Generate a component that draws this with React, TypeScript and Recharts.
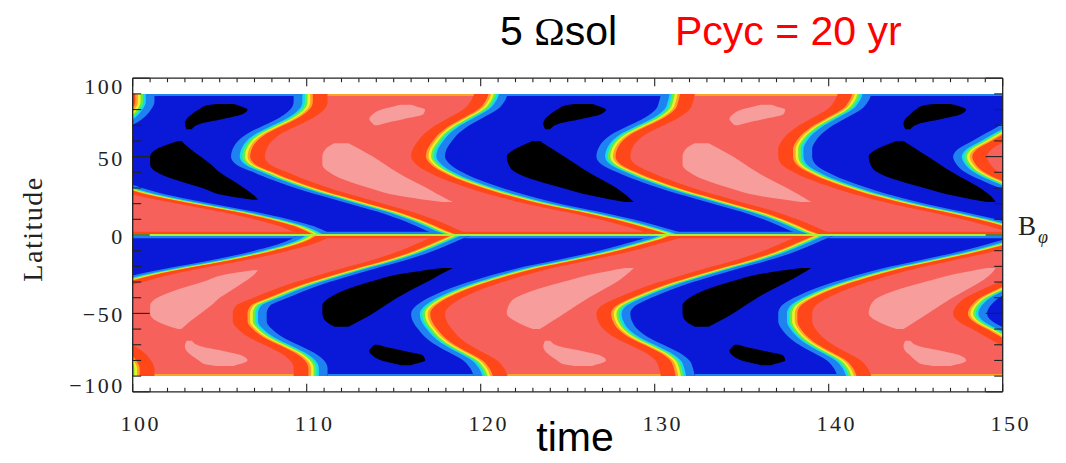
import { Area, ComposedChart, ReferenceLine, XAxis, YAxis } from "recharts";

// every contour patch is a list of [latitude, start time, end time]
type Band = [number, number, number];

const BLACK = "#000000";
const BLUE = "#0a18d8";
const SKY = "#1e82f0";
const CYAN = "#14dcea";
const GREEN = "#62ee4a";
const YELLOW = "#f0f02a";
const ORANGE = "#ffa326";
const VERMILION = "#ff4719";
const SALMON = "#f7615b";
const PINK = "#f79d9b";
const INK = "#222222";
const SERIF = '"Liberation Serif", "Times New Roman", serif';
const SANS = '"Liberation Sans", Arial, sans-serif';

// axis ticks
const timeLabels = [100, 110, 120, 130, 140, 150];
const latLabels = [-100, -50, 0, 50, 100];
const timeTicks: number[] = [];
for (let t = 100; t <= 150; t++) timeTicks.push(t);
const latTicks: number[] = [];
for (let l = -100; l <= 100; l += 10) latTicks.push(l);

// extent of the data (north / south hemisphere)
const northField: Band[] = [[90, 80, 170], [0, 80, 170]];
const southField: Band[] = [[0, 80, 170], [-90, 80, 170]];

// positive B_phi lobes, northern hemisphere (edge of the salmon level)
const lobeN0: Band[] = [
  [90, 85, 99.3], [85, 85, 99.3], [80, 85, 99.1], [75, 85, 98.7], [70, 85, 98.0],
  [65, 85, 97.0], [60, 85, 96.0], [55, 85, 95.4], [50, 85, 95.2], [45, 85, 95.4],
  [40, 85, 96.0], [35, 85, 97.2], [30, 85, 98.6], [25, 85, 100.3], [20, 85, 102.6],
  [15, 85, 105.0], [10, 85, 107.0], [5, 85, 108.6], [2, 85, 109.2], [0, 85, 109.5],
];
const lobeN1: Band[] = [
  [90, 111.2, 119.6], [85, 111.2, 119.4], [80, 111.0, 119.0], [75, 110.4, 118.2], [70, 109.5, 117.4],
  [65, 108.6, 116.8], [60, 108.0, 116.4], [55, 107.7, 116.1], [50, 107.6, 116.0], [45, 107.9, 116.3],
  [40, 108.9, 117.0], [35, 110.0, 118.0], [30, 111.3, 119.3], [25, 112.8, 120.8], [20, 114.4, 122.6],
  [15, 116.0, 124.8], [10, 117.3, 126.8], [5, 118.4, 128.5], [2, 119.0, 129.4], [0, 119.5, 129.9],
];
const lobeN2: Band[] = [
  [90, 132.3, 140.5], [85, 132.2, 140.3], [80, 132.0, 139.9], [75, 131.4, 139.1], [70, 130.5, 138.3],
  [65, 129.6, 137.7], [60, 129.0, 137.3], [55, 128.7, 137.1], [50, 128.6, 137.1], [45, 128.9, 137.3],
  [40, 129.8, 138.0], [35, 130.9, 139.0], [30, 132.2, 140.3], [25, 133.7, 141.8], [20, 135.3, 143.6],
  [15, 136.9, 145.7], [10, 138.2, 147.7], [5, 139.3, 149.4], [2, 139.9, 150.3], [0, 140.4, 150.8],
];
const lobeN3: Band[] = [
  [90, 153.0, 170], [80, 152.7, 170], [70, 151.8, 170], [65, 151.0, 170], [60, 150.2, 170],
  [55, 149.4, 170], [50, 149.1, 170], [45, 149.3, 170], [40, 149.8, 170], [35, 150.7, 170],
  [30, 151.8, 170], [20, 155.3, 170], [10, 158.5, 170], [0, 161.0, 170],
];

// negative B_phi lobes, southern hemisphere (edge of the blue level)
const lobeS0: Band[] = [
  [-90, 85, 99.3], [-85, 85, 99.3], [-80, 85, 99.1], [-75, 85, 98.7], [-70, 85, 98.0],
  [-65, 85, 97.0], [-60, 85, 96.0], [-55, 85, 95.4], [-50, 85, 95.2], [-45, 85, 95.4],
  [-40, 85, 96.0], [-35, 85, 97.2], [-30, 85, 98.6], [-25, 85, 100.3], [-20, 85, 102.6],
  [-15, 85, 105.0], [-10, 85, 107.0], [-5, 85, 108.6], [-2, 85, 109.2], [0, 85, 109.5],
];
const lobeS1: Band[] = [
  [-90, 111.2, 119.6], [-85, 111.2, 119.4], [-80, 111.0, 119.0], [-75, 110.4, 118.2], [-70, 109.5, 117.4],
  [-65, 108.6, 116.8], [-60, 108.0, 116.4], [-55, 107.7, 116.1], [-50, 107.7, 116.0], [-45, 107.9, 116.3],
  [-40, 108.9, 117.0], [-35, 110.0, 118.0], [-30, 111.3, 119.3], [-25, 112.8, 120.8], [-20, 114.4, 122.6],
  [-15, 116.0, 124.8], [-10, 117.3, 126.8], [-5, 118.4, 128.5], [-2, 119.0, 129.4], [0, 119.5, 129.9],
];
const lobeS2: Band[] = [
  [-90, 132.3, 140.5], [-85, 132.2, 140.3], [-80, 132.0, 139.9], [-75, 131.4, 139.1], [-70, 130.5, 138.3],
  [-65, 129.6, 137.7], [-60, 129.0, 137.3], [-55, 128.7, 137.1], [-50, 128.6, 137.1], [-45, 128.9, 137.3],
  [-40, 129.8, 138.0], [-35, 130.9, 139.0], [-30, 132.2, 140.3], [-25, 133.7, 141.8], [-20, 135.3, 143.6],
  [-15, 136.9, 145.7], [-10, 138.2, 147.7], [-5, 139.3, 149.4], [-2, 139.9, 150.3], [0, 140.4, 150.8],
];
const lobeS3: Band[] = [
  [-90, 153.0, 170], [-80, 152.7, 170], [-70, 151.8, 170], [-65, 151.0, 170], [-60, 150.2, 170],
  [-55, 149.4, 170], [-50, 149.1, 170], [-45, 149.3, 170], [-40, 149.8, 170], [-35, 150.7, 170],
  [-30, 151.8, 170], [-20, 155.3, 170], [-10, 158.5, 170], [0, 161.0, 170],
];

// strongest positive level (pink), north
const pinkN1Small: Band[] = [[83, 115.4, 116.0], [82, 115.0, 116.3], [80, 114.3, 116.8], [77, 113.8, 116.7], [74, 113.6, 115.6], [71, 113.8, 114.4], [70, 113.9, 114.1]];
const pinkN1Large: Band[] = [[58.5, 111.6, 112.4], [55, 111.1, 113.0], [50, 110.9, 113.8], [45, 110.9, 114.5], [40, 111.3, 115.2], [35, 112.2, 116.0], [30, 113.6, 116.9], [25, 115.3, 117.7], [21, 117.8, 118.4]];
const pinkN2Small: Band[] = [[83, 136.1, 136.7], [82, 135.7, 137.0], [80, 135.0, 137.5], [77, 134.5, 137.4], [74, 134.3, 136.3], [71, 134.5, 135.1], [70, 134.6, 134.8]];
const pinkN2Large: Band[] = [[58.5, 132.3, 133.1], [55, 131.8, 133.7], [50, 131.6, 134.5], [45, 131.6, 135.2], [40, 132.0, 135.9], [35, 132.9, 136.7], [30, 134.3, 137.6], [25, 136.0, 138.4], [21, 138.4, 139.0]];

// strongest negative level (black), north
const blackN0Small: Band[] = [[83.5, 104.8, 105.8], [82.5, 104.2, 106.1], [80, 103.8, 106.6], [77, 103.4, 106.3], [74, 103.1, 105.2], [71, 103.0, 103.9], [67.5, 103.1, 103.4]];
const blackN0Large: Band[] = [[60, 102.6, 102.8], [55, 101.4, 103.3], [50, 101.0, 103.9], [45, 101.0, 104.5], [40, 101.4, 105.0], [35, 102.5, 105.7], [30, 104.0, 106.4], [25, 105.4, 107.0], [22.5, 106.9, 107.2]];
const blackN1Small: Band[] = [[83.5, 125.4, 126.4], [82.5, 124.8, 126.7], [80, 124.4, 127.2], [77, 124.0, 126.9], [74, 123.7, 125.8], [71, 123.6, 124.5], [67.5, 123.7, 124.0]];
const blackN1Large: Band[] = [[60, 123.0, 123.4], [55, 122.0, 124.1], [50, 121.5, 124.8], [45, 121.6, 125.5], [40, 122.0, 126.2], [35, 123.1, 127.0], [30, 124.7, 127.8], [25, 126.4, 128.4], [21, 128.3, 128.8]];
const blackN2Small: Band[] = [[83.5, 146.0, 147.0], [82.5, 145.4, 147.4], [80, 145.0, 147.9], [77, 144.7, 147.6], [74, 144.4, 146.5], [71, 144.3, 145.2], [67.5, 144.4, 144.7]];
const blackN2Large: Band[] = [[60, 143.9, 144.3], [55, 142.8, 145.0], [50, 142.3, 145.7], [45, 142.4, 146.4], [40, 142.8, 147.1], [35, 143.9, 147.9], [30, 145.5, 148.7], [25, 147.2, 149.3], [21, 149.1, 149.6]];

// south: black blobs inside the blue lobes
const blackS1Small: Band[] = [[-83, 115.4, 116.0], [-82, 115.0, 116.3], [-80, 114.3, 116.8], [-77, 113.8, 116.7], [-74, 113.6, 115.6], [-71, 113.8, 114.4], [-70, 113.9, 114.1]];
const blackS1Large: Band[] = [[-58.5, 111.6, 112.4], [-55, 111.1, 113.0], [-50, 110.9, 113.8], [-45, 110.9, 114.5], [-40, 111.3, 115.2], [-35, 112.2, 116.0], [-30, 113.6, 116.9], [-25, 115.3, 117.7], [-21, 117.8, 118.4]];
const blackS2Small: Band[] = [[-83, 136.1, 136.7], [-82, 135.7, 137.0], [-80, 135.0, 137.5], [-77, 134.5, 137.4], [-74, 134.3, 136.3], [-71, 134.5, 135.1], [-70, 134.6, 134.8]];
const blackS2Large: Band[] = [[-58.5, 132.3, 133.1], [-55, 131.8, 133.7], [-50, 131.6, 134.5], [-45, 131.6, 135.2], [-40, 132.0, 135.9], [-35, 132.9, 136.7], [-30, 134.3, 137.6], [-25, 136.0, 138.4], [-21, 138.4, 139.0]];

// south: pink blobs inside the red background
const pinkS0Small: Band[] = [[-83.5, 104.8, 105.8], [-82.5, 104.2, 106.1], [-80, 103.8, 106.6], [-77, 103.4, 106.3], [-74, 103.1, 105.2], [-71, 103.0, 103.9], [-67.5, 103.1, 103.4]];
const pinkS0Large: Band[] = [[-60, 102.6, 102.8], [-55, 101.4, 103.3], [-50, 101.0, 103.9], [-45, 101.0, 104.5], [-40, 101.4, 105.0], [-35, 102.5, 105.7], [-30, 104.0, 106.4], [-25, 105.4, 107.0], [-22.5, 106.9, 107.2]];
const pinkS1Small: Band[] = [[-83.5, 125.4, 126.4], [-82.5, 124.8, 126.7], [-80, 124.4, 127.2], [-77, 124.0, 126.9], [-74, 123.7, 125.8], [-71, 123.6, 124.5], [-67.5, 123.7, 124.0]];
const pinkS1Large: Band[] = [[-60, 123.0, 123.4], [-55, 122.0, 124.1], [-50, 121.5, 124.8], [-45, 121.6, 125.5], [-40, 122.0, 126.2], [-35, 123.1, 127.0], [-30, 124.7, 127.8], [-25, 126.4, 128.4], [-21, 128.3, 128.8]];
const pinkS2Small: Band[] = [[-83.5, 146.0, 147.0], [-82.5, 145.4, 147.4], [-80, 145.0, 147.9], [-77, 144.7, 147.6], [-74, 144.4, 146.5], [-71, 144.3, 145.2], [-67.5, 144.4, 144.7]];
const pinkS2Large: Band[] = [[-60, 143.9, 144.3], [-55, 142.8, 145.0], [-50, 142.3, 145.7], [-45, 142.4, 146.4], [-40, 142.8, 147.1], [-35, 143.9, 147.9], [-30, 145.5, 148.7], [-25, 147.2, 149.3], [-21, 149.1, 149.6]];

// contour levels between a lobe edge and the opposite sign, outermost first: [colour, reach in time units]
const NORTH_RINGS: [string, number][] = [[SKY, 1.95], [CYAN, 1.45], [GREEN, 1.3], [YELLOW, 1.15], [ORANGE, 1.0], [VERMILION, 0.85]];
const SOUTH_RINGS: [string, number][] = [[VERMILION, 1.95], [ORANGE, 1.1], [YELLOW, 0.95], [GREEN, 0.8], [CYAN, 0.65], [SKY, 0.5]];
// thin strips where the field drops to zero (equator, outer edge), thickness in degrees
const EDGE = 1.3;

type Layer = { key: string; bands: Band[]; fill: string; curve: "monotone" | "linear" };

const northLobes = [lobeN0, lobeN1, lobeN2, lobeN3];
const southLobes = [lobeS0, lobeS1, lobeS2, lobeS3];

// strip along the equator (rows lat 0 and ±2) and along the outer edge (±90)
const equatorRim = (lobe: Band[]) => lobe.filter((b) => Math.abs(b[0]) <= 2);
const outerRim = (lobe: Band[], sign: number) => {
  const top = lobe.find((b) => b[0] === sign * 90)!;
  return [top, [sign * (90 - EDGE), top[1], top[2]] as Band];
};

const layers: Layer[] = [
  { key: "fieldN", bands: northField, fill: BLUE, curve: "linear" },
  { key: "fieldS", bands: southField, fill: SALMON, curve: "linear" },
  { key: "rimN", bands: [[2, 80, 170], [0, 80, 170]], fill: SKY, curve: "linear" },
  { key: "rimS", bands: [[0, 80, 170], [-2, 80, 170]], fill: VERMILION, curve: "linear" },
  { key: "edgeN", bands: [[90, 80, 170], [90 - EDGE, 80, 170]], fill: SKY, curve: "linear" },
  { key: "edgeS", bands: [[-90 + EDGE, 80, 170], [-90, 80, 170]], fill: ORANGE, curve: "linear" },
];
for (let i = 0; i < NORTH_RINGS.length; i++) {
  northLobes.forEach((lobe, j) => {
    const [colour, pad] = NORTH_RINGS[i];
    layers.push({ key: `n${j}r${i}`, bands: lobe.map(([lat, a, b]) => [lat, a - pad, b + pad] as Band), fill: colour, curve: "monotone" });
  });
  southLobes.forEach((lobe, j) => {
    const [colour, pad] = SOUTH_RINGS[i];
    layers.push({ key: `s${j}r${i}`, bands: lobe.map(([lat, a, b]) => [lat, a - pad, b + pad] as Band), fill: colour, curve: "monotone" });
  });
}
northLobes.forEach((lobe, j) => {
  layers.push({ key: `n${j}`, bands: lobe, fill: SALMON, curve: "monotone" });
  layers.push({ key: `n${j}eq`, bands: equatorRim(lobe), fill: VERMILION, curve: "linear" });
  layers.push({ key: `n${j}top`, bands: outerRim(lobe, 1), fill: ORANGE, curve: "linear" });
});
southLobes.forEach((lobe, j) => {
  layers.push({ key: `s${j}`, bands: lobe, fill: BLUE, curve: "monotone" });
  layers.push({ key: `s${j}eq`, bands: equatorRim(lobe), fill: SKY, curve: "linear" });
  layers.push({ key: `s${j}bot`, bands: outerRim(lobe, -1), fill: SKY, curve: "linear" });
});
[pinkN1Small, pinkN1Large, pinkN2Small, pinkN2Large, pinkS0Small, pinkS0Large, pinkS1Small, pinkS1Large, pinkS2Small, pinkS2Large].forEach((b, j) =>
  layers.push({ key: `pink${j}`, bands: b, fill: PINK, curve: "monotone" })
);
[blackN0Small, blackN0Large, blackN1Small, blackN1Large, blackN2Small, blackN2Large, blackS1Small, blackS1Large, blackS2Small, blackS2Large].forEach((b, j) =>
  layers.push({ key: `black${j}`, bands: b, fill: BLACK, curve: "monotone" })
);

const lats = Array.from(new Set(layers.flatMap((l) => l.bands.map((b) => b[0])))).sort((a, b) => b - a);
const table = lats.map((lat) => {
  const row: Record<string, unknown> = { lat };
  for (const l of layers) {
    const b = l.bands.find((x) => x[0] === lat);
    row[l.key] = b ? [b[1], b[2]] : [null, null];
  }
  return row;
});

const fmt = (v: number) => (v < 0 ? `\u2212${-v}` : String(v));

function BottomTick({ x, y, payload }: any) {
  const v = payload.value;
  const major = timeLabels.includes(v);
  return (
    <g>
      <line x1={x} y1={y} x2={x} y2={y - (major ? 8 : 4)} stroke={INK} strokeWidth={1.1} />
      {major && (
        <text x={x + 8} y={y + 39.5} textAnchor="middle" fontFamily={SERIF} fontSize={22} letterSpacing={2.5} fill={INK}>
          {v}
        </text>
      )}
    </g>
  );
}

function TopTick({ x, y, payload }: any) {
  const major = timeLabels.includes(payload.value);
  return <line x1={x} y1={y} x2={x} y2={y + (major ? 8 : 4)} stroke={INK} strokeWidth={1.1} />;
}

function LeftTick({ x, y, payload }: any) {
  const v = payload.value;
  const major = latLabels.includes(v);
  const dy = v === 100 ? 8.5 : v === -100 ? -6 : 1.5;
  return (
    <g>
      <line x1={x} y1={y} x2={x + (major ? 17 : 8.5)} y2={y} stroke={INK} strokeWidth={1.1} />
      {major && (
        <text x={x - 8} y={y + dy + 7.5} textAnchor="end" fontFamily={SERIF} fontSize={22} letterSpacing={2.5} fill={INK}>
          {fmt(v)}
        </text>
      )}
    </g>
  );
}

function RightTick({ x, y, payload }: any) {
  const major = latLabels.includes(payload.value);
  return <line x1={x} y1={y} x2={x - (major ? 17 : 8.5)} y2={y} stroke={INK} strokeWidth={1.1} />;
}

const frame = { stroke: INK, strokeWidth: 1.3 };

export default function App() {
  return (
    <div style={{ position: "absolute", left: 0, top: 0, width: 1066, height: 463, background: "#fff" }}>
      <ComposedChart
        width={1066}
        height={463}
        layout="vertical"
        data={table}
        margin={{ top: 68.2, right: 53.3, bottom: 31.2, left: 72.7 }}
      >
        {layers.map((l) => (
          <Area
            key={l.key}
            dataKey={l.key}
            type={l.curve}
            fill={l.fill}
            fillOpacity={1}
            stroke="none"
            connectNulls
            dot={false}
            activeDot={false}
            isAnimationActive={false}
          />
        ))}
        {/* invisible copy so the top and right frame axes share the data scales */}
        <Area
          dataKey="fieldN"
          xAxisId="top"
          yAxisId="right"
          fill="none"
          fillOpacity={0}
          stroke="none"
          connectNulls
          dot={false}
          activeDot={false}
          isAnimationActive={false}
        />
        <ReferenceLine y={0} stroke="#a6f03a" strokeWidth={2} />
        <XAxis
          type="number"
          domain={[100, 150]}
          allowDataOverflow
          ticks={timeTicks}
          interval={0}
          tickSize={0}
          tickMargin={0}
          tickLine={false}
          tick={BottomTick}
          height={40}
          axisLine={frame}
        />
        <XAxis
          xAxisId="top"
          orientation="top"
          type="number"
          domain={[100, 150]}
          allowDataOverflow
          ticks={timeTicks}
          interval={0}
          tickSize={0}
          tickMargin={0}
          tickLine={false}
          tick={TopTick}
          height={10}
          axisLine={frame}
        />
        <YAxis
          type="number"
          dataKey="lat"
          domain={[-100, 100]}
          allowDataOverflow
          reversed
          ticks={latTicks}
          interval={0}
          tickSize={0}
          tickMargin={0}
          tickLine={false}
          tick={LeftTick}
          width={60}
          axisLine={frame}
        />
        <YAxis
          yAxisId="right"
          orientation="right"
          type="number"
          dataKey="lat"
          domain={[-100, 100]}
          allowDataOverflow
          reversed
          ticks={latTicks}
          interval={0}
          tickSize={0}
          tickMargin={0}
          tickLine={false}
          tick={RightTick}
          width={10}
          axisLine={frame}
        />
      </ComposedChart>
      <svg width={1066} height={463} style={{ position: "absolute", left: 0, top: 0, pointerEvents: "none" }}>
        <text x={500} y={45} fontFamily={SANS} fontSize={41} fill="#000">
          5 <tspan fontFamily={SERIF}>Ω</tspan>sol
        </text>
        <text x={675} y={45} fontFamily={SANS} fontSize={41} fill="#ff0000">
          Pcyc = 20 yr
        </text>
        <text x={575} y={451} textAnchor="middle" fontFamily={SANS} fontSize={41} fill="#000">
          time
        </text>
        <text transform="translate(41.5,229) rotate(-90)" textAnchor="middle" fontFamily={SERIF} fontSize={28} letterSpacing={1.5} fill={INK}>
          Latitude
        </text>
        <text x={1018} y={235} fontFamily={SERIF} fontSize={27} fill={INK}>
          B
          <tspan dx={2} dy={8} fontSize={18} fontStyle="italic">
            φ
          </tspan>
        </text>
      </svg>
    </div>
  );
}
